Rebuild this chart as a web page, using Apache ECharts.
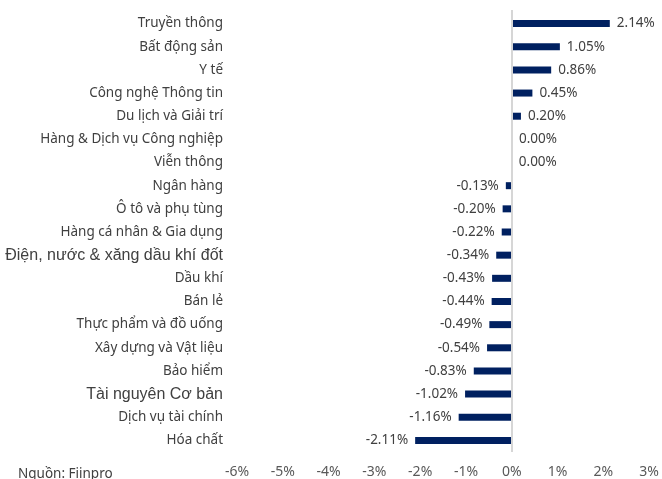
<!DOCTYPE html>
<html>
<head>
<meta charset="utf-8">
<script src="https://cdn.jsdelivr.net/npm/echarts@6/dist/echarts.min.js"></script>
<style>html,body{margin:0;padding:0;background:#fff}#c{width:662px;height:479px}</style>
</head>
<body>
<div id="c"></div>
<script>
const categories = ["Truyền thông","Bất động sản","Y tế","Công nghệ Thông tin","Du lịch và Giải trí","Hàng & Dịch vụ Công nghiệp","Viễn thông","Ngân hàng","Ô tô và phụ tùng","Hàng cá nhân & Gia dụng","Điện, nước & xăng dầu khí đốt","Dầu khí","Bán lẻ","Thực phẩm và đồ uống","Xây dựng và Vật liệu","Bảo hiểm","Tài nguyên Cơ bản","Dịch vụ tài chính","Hóa chất"];
const values = [2.14,1.05,0.86,0.45,0.20,0.004,0,-0.13,-0.20,-0.22,-0.34,-0.43,-0.44,-0.49,-0.54,-0.83,-1.02,-1.16,-2.11];
const xTicks = [-6,-5,-4,-3,-2,-1,0,1,2,3];
const arialCats = ["Điện, nước & xăng dầu khí đốt","Tài nguyên Cơ bản"];

const chart = echarts.init(document.getElementById('c'));
const calibri = "'Noto Sans',sans-serif";
chart.setOption({
  animation:false,
  grid:{left:237,right:9,top:12,bottom:25,containLabel:false},
  xAxis:{type:'value',min:xTicks[0],max:xTicks[xTicks.length-1],interval:1,
    axisLine:{show:false},axisTick:{show:false},splitLine:{show:false},
    axisLabel:{formatter:v=>v+'%',color:'#595959',fontSize:14,fontFamily:calibri,margin:13}},
  yAxis:{type:'category',inverse:true,data:categories,
    axisLine:{show:false,onZero:false},axisTick:{show:false},
    axisLabel:{color:'#404040',fontSize:13.5,fontFamily:calibri,margin:14,
      formatter:v=>arialCats.includes(v)?'{a|'+v+'}':v,
      rich:{a:{fontFamily:"'Liberation Sans',Arial,sans-serif",fontSize:16,color:'#404040'}}}},
  series:[{type:'bar',data:values.map(v=>v<0?{value:v,label:{position:'left'}}:v),barWidth:7,itemStyle:{color:'#002060'},
    label:{show:true,position:'right',distance:7,formatter:p=>p.value.toFixed(2)+'%',color:'#404040',fontSize:13.5,fontFamily:calibri},
    markLine:{silent:true,symbol:['none','none'],animation:false,label:{show:false},
      lineStyle:{color:'#d6d6d6',width:2,type:'solid'},
      data:[[{coord:[0,categories[0]],y:10},{coord:[0,categories[categories.length-1]],y:452}]]}
  }],
  graphic:[{type:'text',left:18,top:467,style:{text:'Nguồn: Fiinpro',fill:'#404040',fontSize:13.5,fontFamily:calibri}}]
});
</script>
</body>
</html>
